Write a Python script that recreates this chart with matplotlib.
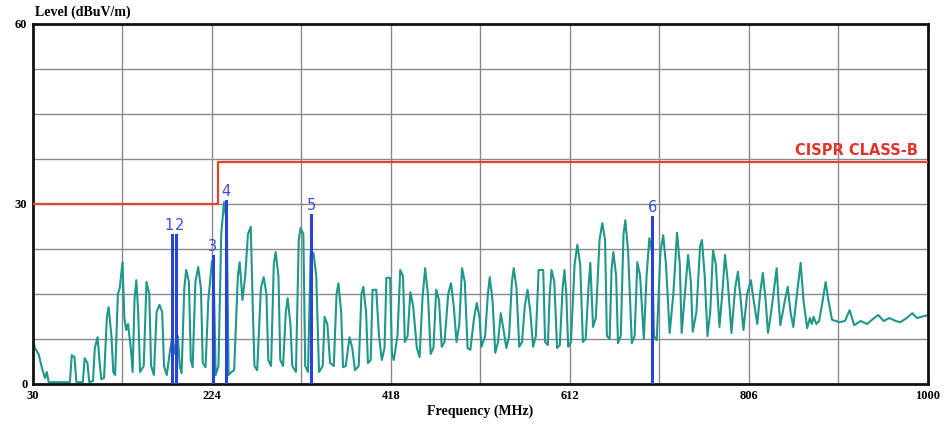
import matplotlib
matplotlib.use("Agg")
import matplotlib.pyplot as plt

# Measured spectrum trace (frequency in MHz, level in dBuV/m)
trace_freq = [
    30, 32, 36, 40, 43, 45, 47, 70, 72, 75, 77, 84, 86, 89, 91, 95, 97, 100, 102, 104,
    107, 110, 112, 115, 117, 119, 122, 124, 127, 129, 131, 133, 136, 138, 140, 142, 144, 146, 150, 153,
    156, 158, 161, 164, 167, 170, 172, 175, 178, 181, 184, 187, 189, 191, 194, 196, 199, 201, 203, 206,
    209, 212, 214, 217, 220, 224, 226, 228, 231, 234, 237, 240, 242, 245, 248, 252, 254, 257, 260, 263,
    266, 268, 270, 273, 277, 280, 283, 285, 288, 291, 293, 296, 298, 301, 304, 306, 309, 311, 315, 318,
    320, 323, 325, 328, 331, 334, 337, 340, 344, 346, 349, 352, 356, 359, 361, 364, 366, 369, 373, 376,
    379, 383, 386, 388, 391, 393, 396, 398, 402, 405, 408, 411, 413, 417, 419, 421, 425, 428, 431, 433,
    436, 439, 442, 446, 449, 452, 455, 458, 461, 464, 467, 470, 473, 476, 480, 483, 486, 489, 492, 495,
    498, 501, 504, 508, 511, 514, 516, 520, 523, 525, 528, 531, 534, 537, 540, 543, 546, 549, 551, 554,
    557, 560, 563, 566, 569, 572, 575, 578, 583, 585, 588, 590, 592, 595, 598, 601, 604, 606, 608, 610,
    613, 617, 620, 623, 626, 629, 632, 634, 636, 637, 640, 644, 647, 650, 652, 655, 657, 659, 662, 664,
    667, 670, 672, 675, 679, 682, 685, 688, 692, 695, 698, 701, 703, 706, 710, 713, 716, 720, 724, 728,
    731, 733, 737, 740, 743, 745, 749, 753, 755, 758, 761, 764, 767, 770, 774, 777, 780, 783, 787, 791,
    794, 797, 800, 804, 808, 811, 815, 818, 821, 824, 826.6, 830, 836, 838, 840, 845, 848, 851, 854, 858,
    862, 865, 869, 872, 874, 876, 879, 882, 886, 889, 892, 896, 904, 910, 915, 920, 927, 934, 940, 946,
    952, 958, 965, 970, 977, 983, 988, 993, 1000,
]
trace_level = [
    7.5, 6.0, 5.0, 2.5, 1.0, 2.0, 0.3, 0.3, 4.8, 4.5, 0.3, 0.3, 4.3, 3.5, 0.3, 0.5, 6.0, 7.8, 4.0, 0.8,
    1.0, 11.0, 12.8, 8.0, 2.0, 1.5, 15.0, 16.0, 20.3, 11.0, 9.0, 10.0, 6.0, 2.0, 14.0, 17.3, 12.0, 2.0, 3.0, 17.0,
    15.0, 3.0, 1.5, 12.0, 13.2, 12.0, 3.0, 1.5, 5.0, 8.0, 5.0, 8.0, 3.0, 1.8, 16.0, 19.0, 17.0, 4.0, 2.8, 17.0,
    19.5, 16.0, 3.5, 2.8, 14.0, 20.5, 17.0, 1.5, 3.0, 25.0, 30.3, 27.0, 1.5, 2.0, 2.3, 18.0, 20.3, 14.0, 18.0, 25.0,
    26.2, 14.0, 3.0, 2.3, 16.0, 17.8, 15.0, 4.0, 3.0, 20.0, 22.0, 18.0, 4.0, 3.0, 12.0, 14.3, 10.0, 3.0, 2.0, 24.0,
    26.0, 25.0, 3.0, 2.0, 22.0, 21.8, 18.0, 2.0, 3.0, 11.2, 10.0, 3.5, 3.0, 15.0, 16.8, 12.0, 2.8, 3.0, 7.8, 6.0,
    2.3, 3.0, 15.0, 16.2, 12.0, 3.5, 4.0, 15.7, 15.7, 8.0, 4.0, 6.0, 17.7, 17.7, 5.0, 4.0, 8.0, 19.0, 18.0, 7.0,
    8.0, 15.3, 13.0, 6.0, 4.5, 14.0, 19.3, 15.0, 5.0, 6.0, 15.7, 14.0, 6.2, 7.0, 15.0, 16.8, 13.0, 7.0, 10.0, 19.3,
    17.0, 6.0, 5.7, 11.0, 13.5, 11.0, 6.2, 8.0, 15.0, 17.8, 14.0, 5.2, 7.0, 11.8, 9.0, 6.0, 8.0, 17.0, 19.3, 16.0,
    6.2, 7.0, 13.0, 15.7, 12.0, 6.2, 8.0, 19.0, 19.0, 7.0, 6.5, 15.0, 19.0, 17.0, 6.0, 6.5, 16.0, 19.0, 15.0, 6.2,
    7.0, 20.0, 23.2, 20.0, 7.0, 7.5, 16.0, 20.2, 13.0, 9.5, 11.0, 24.0, 26.8, 24.0, 8.0, 7.5, 19.0, 22.0, 18.0, 6.8,
    8.0, 25.0, 27.3, 22.0, 6.8, 8.0, 20.3, 18.0, 7.5, 18.0, 24.3, 22.0, 8.0, 7.3, 22.0, 24.8, 20.0, 8.5, 15.0, 25.2,
    20.0, 8.5, 16.0, 21.5, 17.0, 8.7, 12.0, 23.0, 24.0, 18.0, 8.0, 12.0, 22.3, 20.0, 9.5, 15.0, 21.5, 17.0, 8.5, 16.0,
    18.7, 14.0, 9.0, 15.0, 17.3, 14.0, 10.0, 15.0, 18.5, 14.0, 8.5, 12.0, 19.3, 14.0, 9.8, 14.0, 16.2, 12.0, 9.5, 15.0,
    20.2, 14.0, 9.3, 11.0, 10.0, 11.2, 10.0, 10.5, 14.0, 17.0, 14.0, 10.7, 10.3, 10.5, 12.3, 9.8, 10.5, 10.0, 10.8, 11.5,
    10.5, 11.0, 10.5, 10.3, 11.0, 11.8, 11.0, 11.2, 11.5,
]

# CISPR class-B limit (step at 230 MHz)
limit_freq = [30, 230, 230, 1000]
limit_level = [30, 30, 37, 37]
limit_label = "CISPR CLASS-B"

# Marker readings
marker_ids = ["1", "2", "3", "4", "5", "6"]
marker_freq = [181.0, 185.0, 224.8, 238.8, 331.3, 701.2]
marker_level = [24.8, 24.8, 21.3, 30.5, 28.2, 27.9]

# Axis ticks
x_ticks = [30, 224, 418, 612, 806, 1000]
y_ticks = [0, 30, 60]

fig = plt.figure(figsize=(9.53, 4.29), dpi=100)
ax = fig.add_axes([33 / 953, 1 - 384 / 429, (928 - 33) / 953, (384 - 24) / 429])

ax.set_xlim(30, 1000)
ax.set_ylim(0, 60)

# Grid: 10 frequency divisions, 8 level divisions
for i in range(1, 10):
    ax.axvline(30 + 97 * i, color="#8a8a8a", lw=1.0, zorder=0)
for i in range(1, 8):
    ax.axhline(7.5 * i, color="#8a8a8a", lw=1.0, zorder=0)

ax.plot(trace_freq, trace_level, color="#1f978b", lw=1.5, zorder=2)
ax.plot(limit_freq, limit_level, color="#e0442a", lw=1.6, zorder=3)
ax.text(989, 37.6, limit_label, color="#e0352a", fontsize=10.5, fontweight="bold",
        ha="right", va="bottom", family="DejaVu Sans", zorder=4)

for mid, mf, ml in zip(marker_ids, marker_freq, marker_level):
    ax.plot([mf, mf], [0, ml], color="#2a45d4", lw=2.2, zorder=4)

# Keep the labels of the two closely spaced markers side by side
label_shift = {"1": -3.5, "2": 4.0}
for mid, mf, ml in zip(marker_ids, marker_freq, marker_level):
    ax.text(mf + label_shift.get(mid, 0), ml + 0.3, mid, color="#3a4fd8", fontsize=10.5,
            ha="center", va="bottom", family="DejaVu Sans", zorder=5)

ax.set_xticks(x_ticks)
ax.set_yticks(y_ticks)
ax.tick_params(length=0, labelsize=9, pad=4)
for lab in ax.get_xticklabels() + ax.get_yticklabels():
    lab.set_family("Liberation Serif")
    lab.set_fontweight("bold")

for sp in ax.spines.values():
    sp.set_linewidth(2.0)
    sp.set_color("#111111")

ax.set_xlabel("Frequency (MHz)", family="Liberation Serif", fontweight="bold",
              fontsize=10, labelpad=2)
fig.text(35 / 953, 1 - 12 / 429, "Level (dBuV/m)", family="Liberation Serif",
         fontweight="bold", fontsize=10, ha="left", va="center")

fig.savefig("out.png", dpi=100)
